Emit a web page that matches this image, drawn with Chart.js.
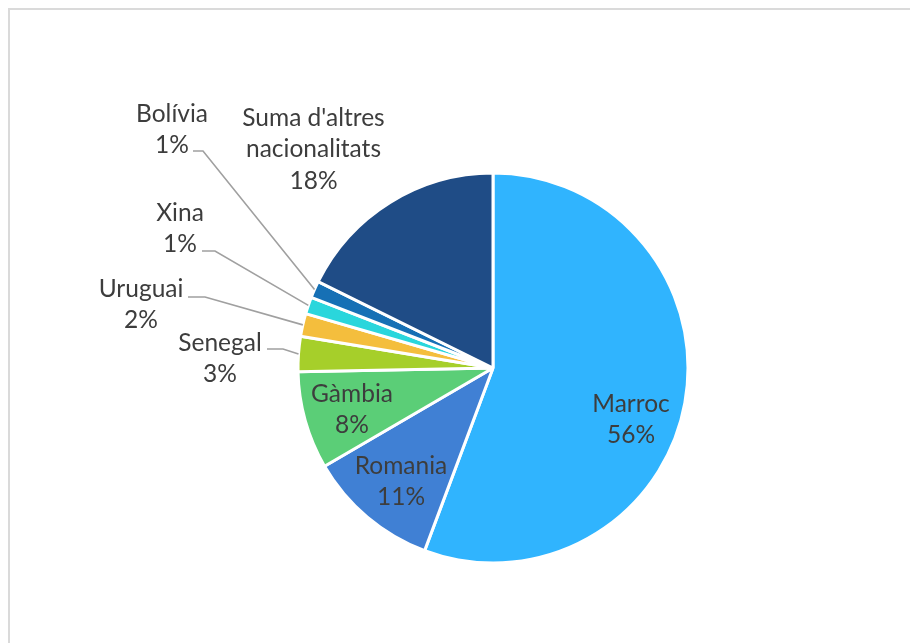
<!DOCTYPE html>
<html>
<head>
<meta charset="utf-8">
<script src="https://cdn.jsdelivr.net/npm/chart.js@4"></script>
<style>
  html, body { margin: 0; padding: 0; background: #fff; }
  #wrap { width: 910px; height: 643px; position: relative; }
</style>
</head>
<body>
<div id="wrap"><canvas id="pieChart"></canvas></div>
<script>
const categories = ['Marroc', 'Romania', 'Gàmbia', 'Senegal', 'Uruguai', 'Xina', 'Bolívia', "Suma d'altres nacionalitats"];
const shares = [55.7, 10.9, 8.1, 2.9, 1.9, 1.4, 1.4, 17.7];
const colors = ['#30b4fe', '#4080d4', '#5bce77', '#a6cf2a', '#f4be3d', '#2ad6dc', '#1670b5', '#1f4c86'];

// label layout: text lines, block centre offset from the pie centre, optional leader start + elbow length
const labelLines = [['Marroc'], ['Romania'], ['Gàmbia'], ['Senegal'], ['Uruguai'], ['Xina'], ['Bolívia'], ['Suma d\'altres', 'nacionalitats']];
const labelPos = [[138, 51], [-92, 113], [-141, 41], [-273, -10], [-352, -64], [-313, -140], [-321, -239], [-179.5, -219.5]];
const leaders = [null, null, null, [47, -9, 16], [47, -7, 17], [22, 23, 13], [21, 22, 10], null];

const frame = {
    id: 'frame',
    beforeDraw(chart) {
        const ctx = chart.ctx;
        ctx.save();
        ctx.strokeStyle = '#dadada';
        ctx.lineWidth = 2;
        ctx.strokeRect(9, 9, 1000, 1000);
        ctx.restore();
    }
};

const pieLabels = {
    id: 'pieLabels',
    afterDatasetsDraw(chart) {
        const ctx = chart.ctx;
        const arcs = chart.getDatasetMeta(0).data;
        const total = shares.reduce((a, b) => a + b, 0);
        ctx.save();
        ctx.font = '24.5px Lato';
        ctx.fillStyle = '#3d3d3d';
        ctx.textAlign = 'center';
        ctx.textBaseline = 'alphabetic';
        const lh = 31.5;
        arcs.forEach((arc, i) => {
            const cx = arc.x + labelPos[i][0];
            const cy = arc.y + labelPos[i][1];
            const lines = labelLines[i].concat([Math.round(shares[i] / total * 100) + '%']);
            lines.forEach((t, j) => {
                const y = cy - (lines.length - 1) / 2 * lh + j * lh + 8.5;
                ctx.fillText(t, cx, y);
            });
            const ld = leaders[i];
            if (ld) {
                const mid = (arc.startAngle + arc.endAngle) / 2;
                const ex = arc.x + Math.cos(mid) * arc.outerRadius;
                const ey = arc.y + Math.sin(mid) * arc.outerRadius;
                ctx.beginPath();
                ctx.strokeStyle = '#a0a0a0';
                ctx.lineWidth = 1.6;
                ctx.moveTo(cx + ld[0], cy + ld[1]);
                ctx.lineTo(cx + ld[0] + ld[2], cy + ld[1]);
                ctx.lineTo(ex, ey);
                ctx.stroke();
            }
        });
        ctx.restore();
    }
};

new Chart(document.getElementById('pieChart').getContext('2d'), {
    type: 'pie',
    data: {
        labels: categories,
        datasets: [{
            data: shares,
            backgroundColor: colors,
            borderColor: '#fff',
            borderWidth: 3
        }]
    },
    options: {
        responsive: true,
        maintainAspectRatio: false,
        animation: false,
        radius: 195,
        layout: { padding: { left: 100, right: 24, top: 100, bottom: 7 } },
        plugins: {
            legend: { display: false },
            tooltip: { enabled: false }
        }
    },
    plugins: [frame, pieLabels]
});
</script>
</body>
</html>
